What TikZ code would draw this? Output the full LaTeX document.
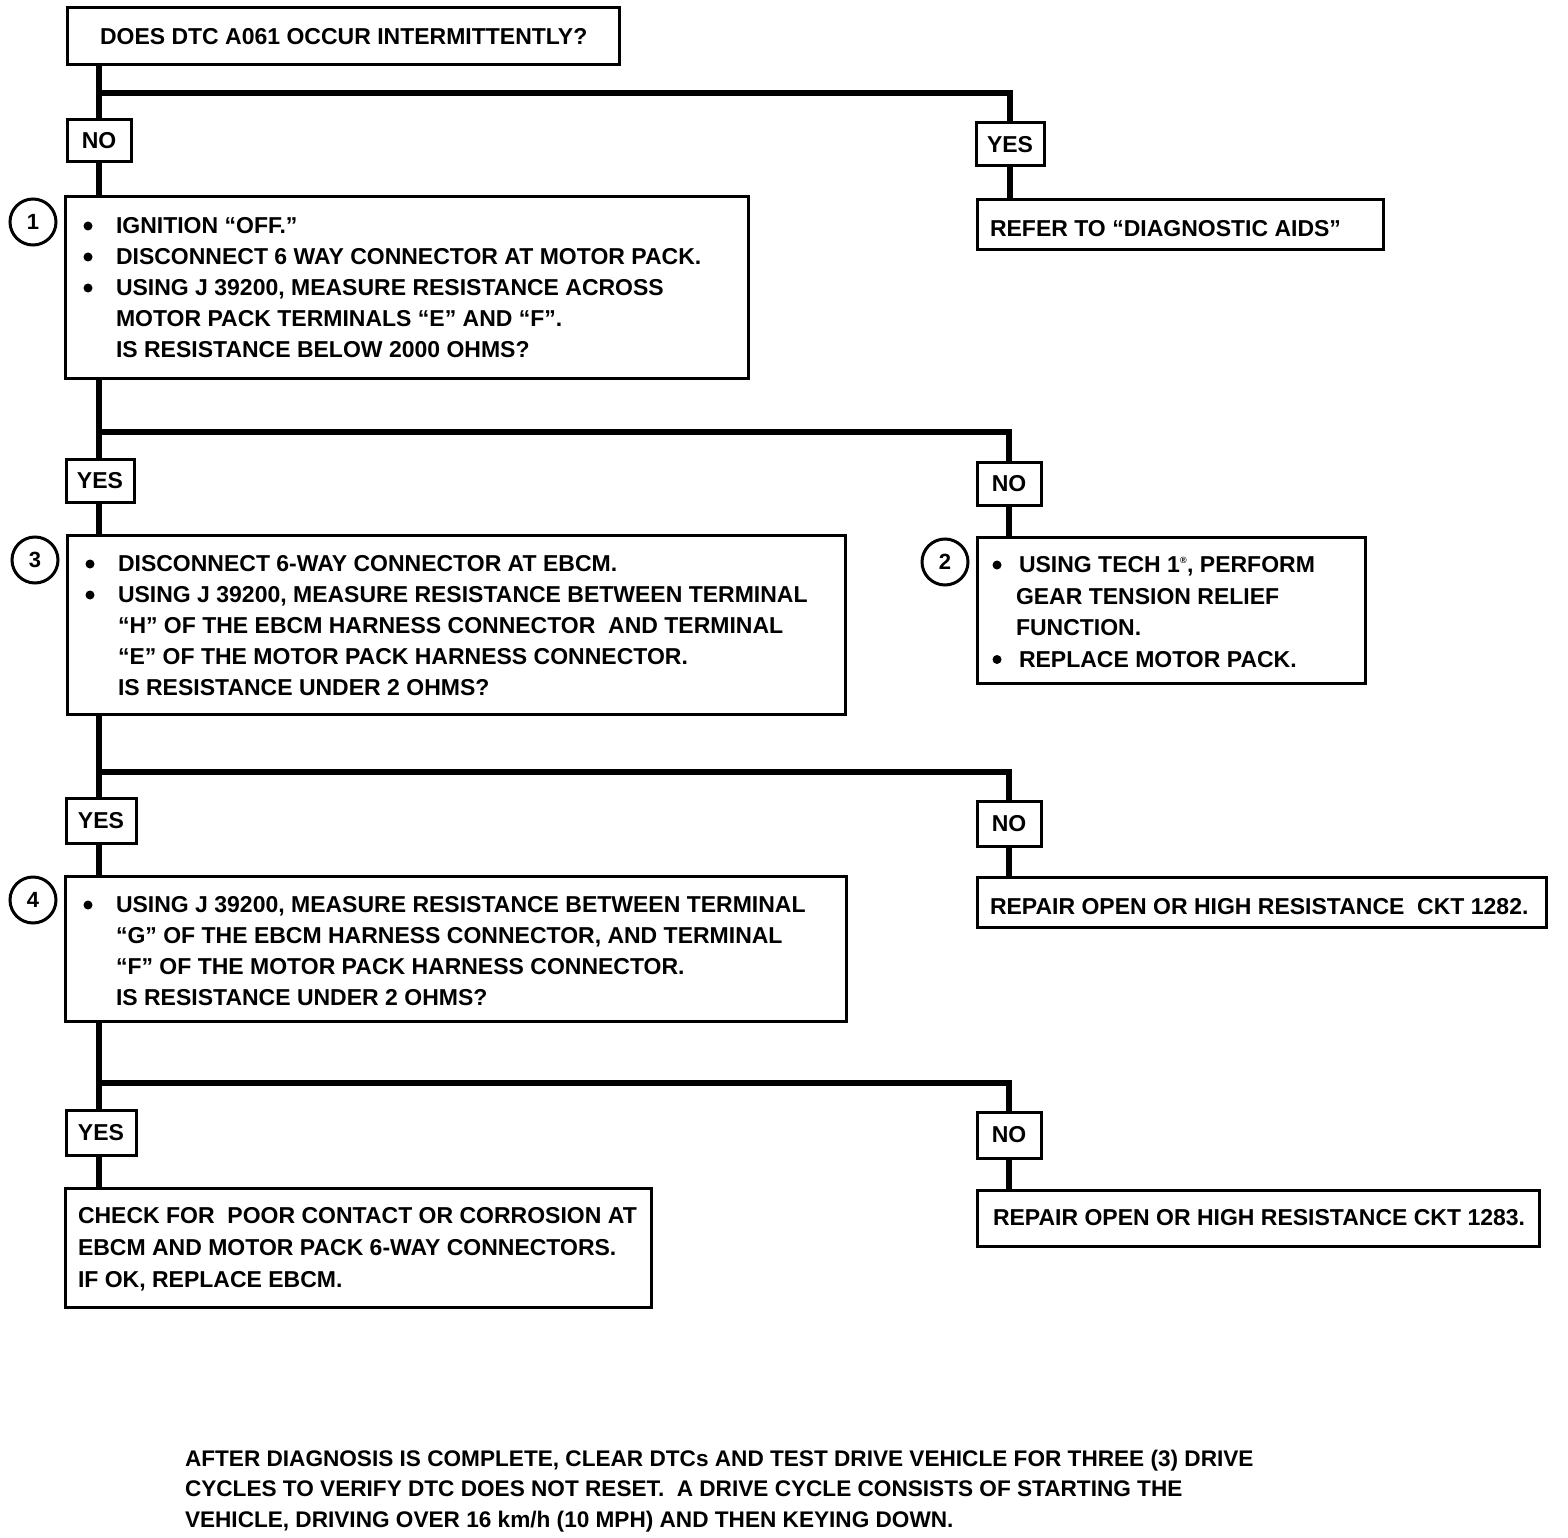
\documentclass[tikz,border=0pt]{standalone}
\usepackage{fontspec}
\setmainfont{Liberation Sans}
\begin{document}
\begin{tikzpicture}[x=1pt,y=-1pt,
  box/.style={draw, line width=3pt, rectangle, anchor=north west, inner sep=0pt, outer sep=0pt},
  lbl/.style={draw, line width=3pt, rectangle, inner sep=0pt, outer sep=0pt, font=\fontsize{23}{23}\selectfont\bfseries},
  conn/.style={line width=6pt},
  txt/.style={anchor=north west, inner sep=0pt, outer sep=0pt, align=left, font=\fontsize{23}{#1}\selectfont\bfseries},
  txt/.default=31,
  num/.style={draw, circle, line width=3pt, minimum size=46pt, inner sep=0pt, font=\fontsize{22}{22}\selectfont\bfseries},
  dotmark/.style={fill=black}]
\fill[white] (0,0) rectangle (1568,1538);
\useasboundingbox (0,0) rectangle (1568,1538);
\newcommand{\nob}{\makebox[32pt][l]{}}
% boxes
\node[box, minimum width=552pt, minimum height=57pt] (top) at (67,8) {};
\node[box, minimum width=406pt, minimum height=50pt] (refer) at (977,200) {};
\node[box, minimum width=683pt, minimum height=181pt] (b1) at (65,197) {};
\node[box, minimum width=778pt, minimum height=179pt] (b3) at (67,535) {};
\node[box, minimum width=388pt, minimum height=146pt] (b2) at (977,537) {};
\node[box, minimum width=569pt, minimum height=50pt] (r1282) at (977,877) {};
\node[box, minimum width=781pt, minimum height=145pt] (b4) at (65,876) {};
\node[box, minimum width=586pt, minimum height=119pt] (check) at (65,1188) {};
\node[box, minimum width=562pt, minimum height=56pt] (r1283) at (977,1190) {};
% labels
\node[lbl, minimum width=64pt, minimum height=42pt] (noA) at (99,141) {NO};
\node[lbl, minimum width=68pt, minimum height=43pt] (yesA) at (1010,144.5) {YES};
\node[lbl, minimum width=68pt, minimum height=43pt] (yesB) at (100,480.5) {YES};
\node[lbl, minimum width=64pt, minimum height=43pt] (noB) at (1009,483.5) {NO};
\node[lbl, minimum width=70pt, minimum height=45pt] (yesC) at (101,820.5) {YES};
\node[lbl, minimum width=64pt, minimum height=45pt] (noC) at (1009,823.5) {NO};
\node[lbl, minimum width=70pt, minimum height=45pt] (yesD) at (101,1132.5) {YES};
\node[lbl, minimum width=64pt, minimum height=46pt] (noD) at (1009,1135) {NO};
% circles
\node[num] (c1) at (33,222) {1};
\node[num] (c3) at (35,560) {3};
\node[num] (c2) at (945,562) {2};
\node[num] (c4) at (33,900) {4};
% junctions
\coordinate (j1) at (99,93);
\coordinate (j2) at (99,432);
\coordinate (j3) at (99,772);
\coordinate (j4) at (99,1083);
% connectors
\draw[conn] (top.south -| j1) -- (j1) -- (j1 |- noA.north);
\draw[conn] (j1) -| (yesA.north);
\draw[conn] (noA.south -| j1) -- (j1 |- b1.north);
\draw[conn] (yesA.south) -- (yesA.south |- refer.north);
\draw[conn] (b1.south -| j2) -- (j2) -- (j2 |- yesB.north);
\draw[conn] (j2) -| (noB.north);
\draw[conn] (yesB.south -| j2) -- (j2 |- b3.north);
\draw[conn] (noB.south) -- (noB.south |- b2.north);
\draw[conn] (b3.south -| j3) -- (j3) -- (j3 |- yesC.north);
\draw[conn] (j3) -| (noC.north);
\draw[conn] (yesC.south -| j3) -- (j3 |- b4.north);
\draw[conn] (noC.south) -- (noC.south |- r1282.north);
\draw[conn] (b4.south -| j4) -- (j4) -- (j4 |- yesD.north);
\draw[conn] (j4) -| (noD.north);
\draw[conn] (yesD.south -| j4) -- (j4 |- check.north);
\draw[conn] (noD.south) -- (noD.south |- r1283.north);
% bullets
\foreach \p in {(88,226),(88,257),(88,288),(90,564),(90,595),(997,565),(997,659.5),(88,905)}
  \fill[dotmark] \p circle (4.5pt);
% texts
\node[txt] (ttop) at (100,28.75) {DOES DTC A061 OCCUR INTERMITTENTLY?};
\node[txt] (tref) at (990,220.75) {REFER TO “DIAGNOSTIC AIDS”};
\node[txt] (t1) at (84,217.75) {\nob IGNITION “OFF.”\\
\nob DISCONNECT 6 WAY CONNECTOR AT MOTOR PACK.\\
\nob USING J 39200, MEASURE RESISTANCE ACROSS\\
\nob MOTOR PACK TERMINALS “E” AND “F”.\\
\nob IS RESISTANCE BELOW 2000 OHMS?};
\node[txt] (t3) at (86,555.75) {\nob DISCONNECT 6-WAY CONNECTOR AT EBCM.\\
\nob USING J 39200, MEASURE RESISTANCE BETWEEN TERMINAL\\
\nob “H” OF THE EBCM HARNESS CONNECTOR\ \ AND TERMINAL\\
\nob “E” OF THE MOTOR PACK HARNESS CONNECTOR.\\
\nob IS RESISTANCE UNDER 2 OHMS?};
\node[txt=31.5] (t2) at (993,556.75) {\makebox[26pt][l]{}USING TECH 1\textsuperscript{\fontsize{9}{9}\selectfont ®}, PERFORM\\
\makebox[23pt][l]{}GEAR TENSION RELIEF\\
\makebox[23pt][l]{}FUNCTION.\\
\makebox[26pt][l]{}REPLACE MOTOR PACK.};
\node[txt] (t4) at (84,896.75) {\nob USING J 39200, MEASURE RESISTANCE BETWEEN TERMINAL\\
\nob “G” OF THE EBCM HARNESS CONNECTOR, AND TERMINAL\\
\nob “F” OF THE MOTOR PACK HARNESS CONNECTOR.\\
\nob IS RESISTANCE UNDER 2 OHMS?};
\node[txt] (t1282) at (990,898.75) {REPAIR OPEN OR HIGH RESISTANCE\ \ CKT 1282.};
\node[txt] (t1283) at (993,1209.75) {REPAIR OPEN OR HIGH RESISTANCE CKT 1283.};
\node[txt=32] (tcheck) at (78,1207.75) {CHECK FOR\ \ POOR CONTACT OR CORROSION AT\\
EBCM AND MOTOR PACK 6-WAY CONNECTORS.\\
IF OK, REPLACE EBCM.};
\node[anchor=north west, inner sep=0pt, outer sep=0pt, align=left, font=\fontsize{22.6}{30.5}\selectfont\bfseries] (tfoot) at (185,1449.9) {AFTER DIAGNOSIS IS COMPLETE, CLEAR DTCs AND TEST DRIVE VEHICLE FOR THREE (3) DRIVE\\
CYCLES TO VERIFY DTC DOES NOT RESET.\ \ A DRIVE CYCLE CONSISTS OF STARTING THE\\
VEHICLE, DRIVING OVER 16 km/h (10 MPH) AND THEN KEYING DOWN.};
\end{tikzpicture}
\end{document}
